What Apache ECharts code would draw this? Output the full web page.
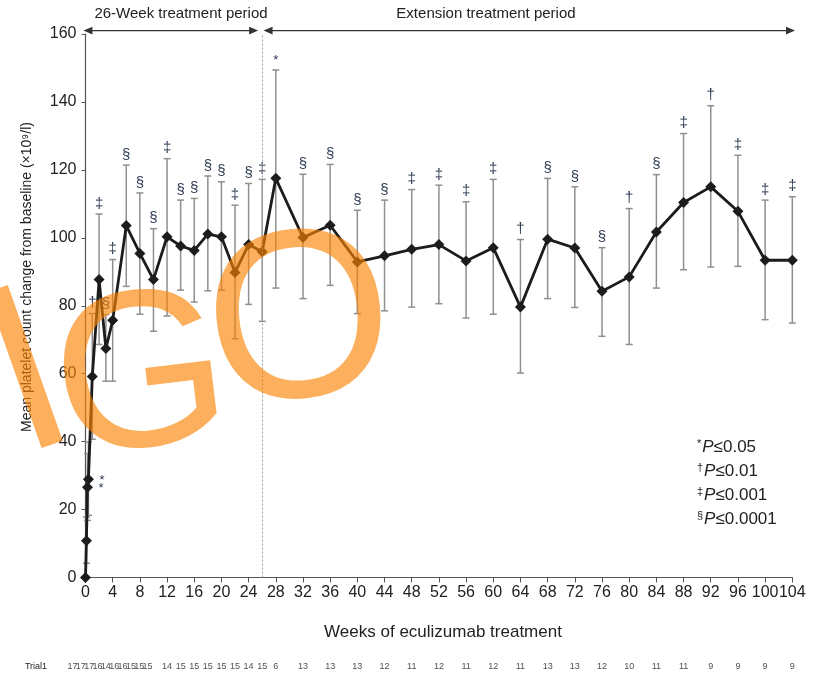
<!DOCTYPE html>
<html><head><meta charset="utf-8">
<script src="https://cdn.jsdelivr.net/npm/echarts@6/dist/echarts.min.js"></script>
<style>html,body{margin:0;padding:0;background:#fff}#c{width:815px;height:673px}</style>
</head><body><div id="c"></div>
<script>
// ---- data ----
const weeks = [0,0.14,0.29,0.43,1,2,3,4,6,8,10,12,14,16,18,20,22,24,26,28,32,36,40,44,48,52,56,60,64,68,72,76,80,84,88,92,96,100,104];
const meanChange = [0,10.8,26.6,28.9,59.2,87.7,67.4,75.7,103.6,95.4,87.7,100.3,97.6,96.3,101.1,100.3,89.8,98.0,95.9,117.5,100.1,103.7,92.9,94.7,96.6,98.0,93.2,97.1,79.6,99.6,97.0,84.3,88.5,101.7,110.4,115.0,107.8,93.4,93.4];
const upperBar = [null,17.8,36.5,39.9,77.7,107.0,77.4,93.6,121.4,113.2,102.7,123.3,111.1,111.6,118.2,116.5,109.6,116.0,117.2,149.4,118.7,121.6,108.1,111.1,114.2,115.5,110.6,117.2,99.5,117.5,115.0,97.1,108.6,118.6,130.7,138.9,124.3,111.1,112.1];
const lowerBar = [null,4.2,16.8,18.3,40.7,68.6,57.8,57.8,85.7,77.5,72.5,77.0,84.6,81.1,84.4,84.6,70.3,80.4,75.4,85.2,82.1,86.0,77.7,78.5,79.6,80.6,76.4,77.5,60.2,82.1,79.5,71.0,68.6,85.2,90.6,91.4,91.6,75.9,74.9];
const sigMarks = ['','','*','*','†','‡','§','‡','§','§','§','‡','§','§','§','§','‡','§','‡','*','§','§','§','§','‡','‡','‡','‡','†','§','§','§','†','§','‡','†','‡','‡','‡'];
const trialN = [17,17,17,16,14,16,16,15,15,15,14,15,15,15,15,15,14,15,6,13,13,13,12,11,12,11,12,11,13,13,12,10,11,11,9,9,9,9];
const xTicks = [0,4,8,12,16,20,24,28,32,36,40,44,48,52,56,60,64,68,72,76,80,84,88,92,96,100,104];
const yTicks = [0,20,40,60,80,100,120,140,160];
const legendRows = [['*','0.05'],['†','0.01'],['‡','0.001'],['§','0.0001']];

const FONT = 'Liberation Sans, Arial, sans-serif';
const chart = echarts.init(document.getElementById('c'), null, {renderer:'canvas'});

// trial row label positions: first ten counts are packed tightly
const packedCount = 10;
const trialPos = trialN.map((n,i)=> i < packedCount ? -1.91 + i*1.227 : weeks[i+1]);

const barData = weeks.map((w,i)=>[w, lowerBar[i], upperBar[i], meanChange[i], i]).filter(d=>d[1]!=null);

const option = {
  animation:false,
  backgroundColor:'#fff',
  grid:[
    {left:85.5, right:22.7, top:34, bottom:95.5},
    {left:85.5, right:22.7, top:660, height:14}
  ],
  xAxis:[
    {type:'value', gridIndex:0, min:0, max:104, interval:4,
     axisLine:{show:true, onZero:false, lineStyle:{color:'#555', width:1.2}},
     axisTick:{show:true, length:5, lineStyle:{color:'#555'}},
     axisLabel:{fontSize:16, color:'#222', fontFamily:FONT, margin:7,
       formatter:v=> xTicks.includes(v)? String(v):''},
     splitLine:{show:false}},
    {type:'value', gridIndex:1, min:0, max:104, show:false}
  ],
  yAxis:[
    {type:'value', gridIndex:0, min:0, max:160, interval:20,
     axisLine:{show:true, lineStyle:{color:'#555', width:1.2}},
     axisTick:{show:true, length:4, lineStyle:{color:'#555'}},
     axisLabel:{fontSize:16, color:'#222', fontFamily:FONT, margin:9,
       formatter:v=> yTicks.includes(v)? String(v):''},
     splitLine:{show:false}},
    {type:'value', gridIndex:1, min:0, max:1, show:false}
  ],
  series:[
    {
      type:'custom', xAxisIndex:0, yAxisIndex:0, z:2,
      data:barData,
      renderItem:function(params, api){
        const x = api.value(0), lo = api.value(1), hi = api.value(2), mean = api.value(3), idx = api.value(4);
        const pHi = api.coord([x, hi]), pLo = api.coord([x, lo]), pM = api.coord([x, mean]);
        const cw = 3.5;
        const st = {stroke:'#8f8f8f', lineWidth:1.5};
        const children = [
          {type:'line', shape:{x1:pLo[0], y1:pLo[1], x2:pHi[0], y2:pHi[1]}, style:st},
          {type:'line', shape:{x1:pHi[0]-cw, y1:pHi[1], x2:pHi[0]+cw, y2:pHi[1]}, style:st},
          {type:'line', shape:{x1:pLo[0]-cw, y1:pLo[1], x2:pLo[0]+cw, y2:pLo[1]}, style:st}
        ];
        const mk = sigMarks[idx];
        if (mk) {
          const early = x < 0.5;
          children.push({type:'text', z2:5, style:{
            text:mk, x: early ? pM[0]+11 : pHi[0], y: early ? pM[1]+1 : pHi[1]-3,
            align: early ? 'left':'center', verticalAlign: early ? 'middle':'bottom',
            fill:'#2f3b55', font: (mk==='*' ? '13px ' : '15px ') + FONT}});
        }
        return {type:'group', children};
      }
    },
    {
      type:'line', xAxisIndex:0, yAxisIndex:0, z:3,
      data: weeks.map((w,i)=>[w, meanChange[i]]),
      symbol:'diamond', symbolSize:11, showSymbol:true,
      lineStyle:{color:'#1c1c1c', width:2.8},
      itemStyle:{color:'#1c1c1c'},
      markLine:{silent:true, symbol:'none', label:{show:false},
        lineStyle:{color:'#9a9a9a', type:[2,2], width:1},
        data:[{xAxis:26}]}
    },
    {
      type:'scatter', xAxisIndex:1, yAxisIndex:1, clip:false,
      symbolSize:0,
      data: trialN.map((n,i)=>[trialPos[i], 0.5, n]),
      label:{show:true, position:'inside', formatter:p=>String(p.value[2]),
        fontSize:9, color:'#222', fontFamily:FONT}
    }
  ],
  graphic:[]
};
chart.setOption(option);

// annotations placed via the axes' own conversion
const px = (w,v)=>chart.convertToPixel({gridIndex:0},[w,v]);
const arrowY = px(0,161)[1];
function arrow(x1,x2){
  const c='#333', h=9, hw=3.8;
  return [
    {type:'line', shape:{x1:x1+h-1, y1:arrowY, x2:x2-h+1, y2:arrowY}, style:{stroke:c, lineWidth:1.1}},
    {type:'polygon', shape:{points:[[x1,arrowY],[x1+h,arrowY-hw],[x1+h,arrowY+hw]]}, style:{fill:c}},
    {type:'polygon', shape:{points:[[x2,arrowY],[x2-h,arrowY-hw],[x2-h,arrowY+hw]]}, style:{fill:c}}
  ];
}
const a1 = arrow(px(-0.3,0)[0], px(25.4,0)[0]);
const a2 = arrow(px(26.2,0)[0], px(104.4,0)[0]);
const legendTexts = legendRows.map((r,i)=>({
  type:'text', left:697, top:438+i*24, z:10,
  style:{text:'{s|'+r[0]+'}{p|P}{n|≤'+r[1]+'}', fill:'#222',
    rich:{s:{fontSize:11, fontFamily:FONT, verticalAlign:'top', lineHeight:19, padding:[0,1,0,0]},
          p:{fontSize:17, fontStyle:'italic', fontFamily:FONT, lineHeight:19},
          n:{fontSize:17, fontFamily:FONT, lineHeight:19}}}
}));
const wm = 'rgba(250,130,0,0.64)';
chart.setOption({graphic:[
  ...a1, ...a2,
  {type:'text', x:181, y:14, style:{text:'26-Week treatment period', align:'center', verticalAlign:'middle', font:'15px '+FONT, fill:'#222'}},
  {type:'text', x:486, y:14, style:{text:'Extension treatment period', align:'center', verticalAlign:'middle', font:'15px '+FONT, fill:'#222'}},
  {type:'text', x:27, y:277, rotation:Math.PI/2, style:{text:'Mean platelet count change from baseline (×10⁹/l)', align:'center', verticalAlign:'middle', font:'14px '+FONT, fill:'#222'}},
  {type:'text', x:443, y:632, style:{text:'Weeks of eculizumab treatment', align:'center', verticalAlign:'middle', font:'17px '+FONT, fill:'#222'}},
  {type:'text', x:36, y:667, style:{text:'Trial1', align:'center', verticalAlign:'middle', font:'9px '+FONT, fill:'#222'}},
  ...legendTexts,
  {type:'text', x:30, y:382, rotation:0.34, z:20, style:{text:'I', align:'center', verticalAlign:'middle', font:'240px '+FONT, fill:wm}},
  {type:'text', x:142, y:384, rotation:0.12, z:20, style:{text:'G', align:'center', verticalAlign:'middle', font:'224px '+FONT, fill:wm}},
  {type:'text', x:300, y:330, rotation:0.1, z:20, style:{text:'O', align:'center', verticalAlign:'middle', font:'240px '+FONT, fill:wm}}
]});
</script></body></html>
